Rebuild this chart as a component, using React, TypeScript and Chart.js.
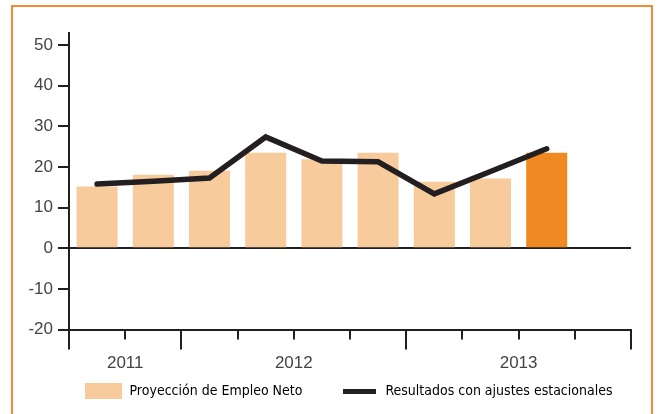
import { useEffect, useRef } from 'react';
import { Chart, registerables } from 'chart.js';

Chart.register(...registerables);

// ---- data ----
const quarters = ['T3 2011', 'T4 2011', 'T1 2012', 'T2 2012', 'T3 2012', 'T4 2012', 'T1 2013', 'T2 2013', 'T3 2013', 'T4 2013'];
const years = ['2011', '2012', '2013'];
const quartersPerYear = [2, 4, 4];
const projection = [15.2, 18.1, 19.1, 23.5, 21.9, 23.5, 16.4, 17.2, 23.5, null];
const seasonal = [15.8, 16.5, 17.3, 27.4, 21.5, 21.3, 13.4, 18.9, 24.5, null];
const yTicks = [-20, -10, 0, 10, 20, 30, 40, 50];
const seriesNames = ['Proyección de Empleo Neto', 'Resultados con ajustes estacionales'];

// ---- style ----
const LIGHT = '#F8CB9C';
const DARK = '#EE8A21';
const INK = '#231F20';
const TEXT = '#444444';
const ORANGE = '#F28A32';
const AXIS_FONT = "'Liberation Sans', Arial, sans-serif";
const LEGEND_FONT = "'DejaVu Sans Condensed', 'Liberation Sans', sans-serif";
const CANVAS_W = 677;
const CANVAS_H = 414;

function symbol(w: number, h: number, color: string) {
  const c = document.createElement('canvas');
  c.width = w;
  c.height = h;
  const g = c.getContext('2d');
  if (g) {
    g.fillStyle = color;
    g.fillRect(0, 0, w, h);
  }
  return c;
}

export default function App() {
  const ref = useRef<HTMLCanvasElement | null>(null);

  useEffect(() => {
    const canvas = ref.current;
    if (!canvas) return;

    const lastIdx = projection.reduce((acc: number, v, i) => (v !== null ? i : acc), -1);
    const barColors = projection.map((_, i) => (i === lastIdx ? DARK : LIGHT));

    const barSymbol = symbol(37, 16, LIGHT);
    const lineSymbol = symbol(33, 5, INK);

    const yearPlugin = {
      id: 'yearAxis',
      afterDraw(chart: any) {
        const xs = chart.scales.x;
        const area = chart.chartArea;
        const ctx = chart.ctx;
        ctx.save();
        const bounds: number[] = [0];
        quartersPerYear.forEach((n) => bounds.push(bounds[bounds.length - 1] + n));
        ctx.strokeStyle = INK;
        ctx.lineWidth = 2;
        bounds.forEach((b) => {
          const x = Math.round(xs.getPixelForValue(b - 0.5));
          ctx.beginPath();
          ctx.moveTo(x, area.bottom);
          ctx.lineTo(x, area.bottom + 20);
          ctx.stroke();
        });
        ctx.fillStyle = TEXT;
        ctx.font = `17px ${AXIS_FONT}`;
        ctx.textAlign = 'center';
        ctx.textBaseline = 'alphabetic';
        years.forEach((y, i) => {
          const mid = (bounds[i] + bounds[i + 1]) / 2 - 0.5;
          ctx.fillText(y, xs.getPixelForValue(mid), area.bottom + 38);
        });
        ctx.restore();
      },
    };

    const chart = new Chart(canvas, {
      type: 'bar',
      data: {
        labels: quarters,
        datasets: [
          {
            type: 'line',
            label: seriesNames[1],
            data: seasonal,
            borderColor: INK,
            backgroundColor: INK,
            borderWidth: 5.5,
            pointRadius: 0,
            tension: 0,
            borderCapStyle: 'round',
            borderJoinStyle: 'miter',
            order: 1,
          } as any,
          {
            type: 'bar',
            label: seriesNames[0],
            data: projection,
            backgroundColor: barColors,
            borderWidth: 0,
            categoryPercentage: 1,
            barPercentage: 0.73,
            order: 2,
          } as any,
        ],
      },
      options: {
        responsive: false,
        animation: false,
        devicePixelRatio: 1,
        layout: { padding: { left: 20, right: 0, top: 33, bottom: 6 } },
        scales: {
          x: {
            type: 'category',
            offset: true,
            afterFit: (s: any) => { s.height = 16.5; },
            ticks: { display: false },
            grid: {
              offset: true,
              drawOnChartArea: false,
              drawTicks: true,
              tickLength: 10,
              color: INK,
              lineWidth: 2,
            },
            border: { display: true, color: INK, width: 2 },
          },
          y: {
            type: 'linear',
            position: 'left',
            min: -20,
            max: 53,
            afterBuildTicks: (s: any) => { s.ticks = yTicks.map((v) => ({ value: v })); },
            afterFit: (s: any) => { s.width = 49; },
            ticks: {
              color: TEXT,
              padding: 5,
              font: { family: AXIS_FONT, size: 17 },
              callback: (v: any) => String(v),
            },
            grid: {
              color: (c: any) => (c.tick && c.tick.value === 0 ? INK : 'rgba(0,0,0,0)'),
              tickColor: INK,
              lineWidth: 2,
              tickLength: 11,
              drawOnChartArea: true,
            },
            border: { display: true, color: INK, width: 2 },
          },
          yR: {
            type: 'linear',
            position: 'right',
            display: true,
            afterFit: (s: any) => { s.width = CANVAS_W - 631; },
            ticks: { display: false },
            grid: { display: false, drawTicks: false },
            border: { display: false },
          },
        },
        plugins: {
          tooltip: { enabled: false },
          legend: {
            display: true,
            position: 'bottom',
            align: 'center',
            labels: {
              usePointStyle: true,
              pointStyleWidth: 38,
              boxHeight: 16,
              padding: 38,
              color: TEXT,
              font: { family: LEGEND_FONT, size: 14 },
              generateLabels: () => [
                { text: seriesNames[0], fillStyle: LIGHT, strokeStyle: LIGHT, lineWidth: 0, pointStyle: barSymbol, hidden: false, datasetIndex: 1 },
                { text: seriesNames[1], fillStyle: INK, strokeStyle: INK, lineWidth: 0, pointStyle: lineSymbol, hidden: false, datasetIndex: 0 },
              ] as any,
            },
          },
        },
      },
      plugins: [yearPlugin],
    });

    return () => chart.destroy();
  }, []);

  return (
    <div style={{ position: 'fixed', left: 0, top: 0, width: 657, height: 414, overflow: 'hidden', background: '#ffffff' }}>
      <canvas ref={ref} width={CANVAS_W} height={CANVAS_H} style={{ display: 'block', width: CANVAS_W, height: CANVAS_H }} />
      <div
        style={{
          position: 'absolute',
          left: 11,
          top: 5,
          width: 642,
          height: 409,
          boxSizing: 'border-box',
          borderTop: `2px solid ${ORANGE}`,
          borderLeft: `2px solid ${ORANGE}`,
          borderRight: `2px solid ${ORANGE}`,
          pointerEvents: 'none',
        }}
      />
    </div>
  );
}
